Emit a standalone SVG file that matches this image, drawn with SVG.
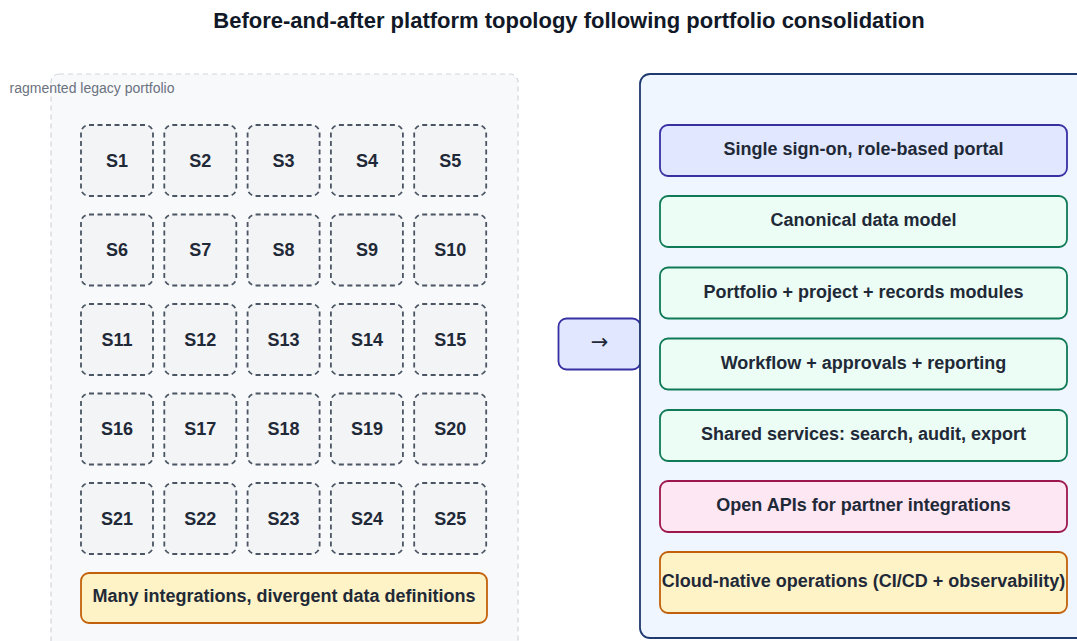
<svg xmlns="http://www.w3.org/2000/svg" width="1077" height="641" viewBox="0 0 1077 641">
<defs>
<style>
text{font-family:"Liberation Sans",Arial,sans-serif;fill:#1f2937;}
.title{font-size:22px;font-weight:bold;fill:#111827;}
.lbl{font-size:14px;fill:#6b7280;}
.s rect{fill:#f3f4f6;stroke:#4b5563;stroke-width:1.8;stroke-dasharray:5 3.5;}
.s text{font-size:18px;font-weight:bold;text-anchor:middle;}
.b text{font-size:18px;font-weight:bold;text-anchor:middle;}
.b rect{stroke-width:1.8;}
.indigo{fill:#e0e7ff;stroke:#3730a3;}
.green{fill:#ecfdf5;stroke:#0f7a55;}
.pink{fill:#fce7f3;stroke:#9d174d;}
.amber{fill:#fef3c7;stroke:#c2610c;}
</style>
<clipPath id="lc"><rect x="10" y="70" width="300" height="30"/></clipPath>
</defs>
<rect width="1077" height="641" fill="#ffffff"/>
<text class="title" x="569" y="27.5" text-anchor="middle">Before-and-after platform topology following portfolio consolidation</text>

<g id="legacy-panel">
<rect x="51" y="74" width="467" height="600" rx="8" fill="#f8f9fb" stroke="#d1d5db" stroke-width="1.2" stroke-dasharray="5 4"/>
<text class="lbl" x="174.5" y="93" text-anchor="end" clip-path="url(#lc)">Fragmented legacy portfolio</text>
</g>

<g id="S1" class="s"><rect x="81" y="125" width="72" height="71" rx="8"/><text x="117" y="166.5">S1</text></g>
<g id="S2" class="s"><rect x="164.3" y="125" width="72" height="71" rx="8"/><text x="200.3" y="166.5">S2</text></g>
<g id="S3" class="s"><rect x="247.6" y="125" width="72" height="71" rx="8"/><text x="283.6" y="166.5">S3</text></g>
<g id="S4" class="s"><rect x="330.9" y="125" width="72" height="71" rx="8"/><text x="366.9" y="166.5">S4</text></g>
<g id="S5" class="s"><rect x="414.2" y="125" width="72" height="71" rx="8"/><text x="450.2" y="166.5">S5</text></g>

<g id="S6" class="s"><rect x="81" y="214.5" width="72" height="71" rx="8"/><text x="117" y="256">S6</text></g>
<g id="S7" class="s"><rect x="164.3" y="214.5" width="72" height="71" rx="8"/><text x="200.3" y="256">S7</text></g>
<g id="S8" class="s"><rect x="247.6" y="214.5" width="72" height="71" rx="8"/><text x="283.6" y="256">S8</text></g>
<g id="S9" class="s"><rect x="330.9" y="214.5" width="72" height="71" rx="8"/><text x="366.9" y="256">S9</text></g>
<g id="S10" class="s"><rect x="414.2" y="214.5" width="72" height="71" rx="8"/><text x="450.2" y="256">S10</text></g>

<g id="S11" class="s"><rect x="81" y="304" width="72" height="71" rx="8"/><text x="117" y="345.5">S11</text></g>
<g id="S12" class="s"><rect x="164.3" y="304" width="72" height="71" rx="8"/><text x="200.3" y="345.5">S12</text></g>
<g id="S13" class="s"><rect x="247.6" y="304" width="72" height="71" rx="8"/><text x="283.6" y="345.5">S13</text></g>
<g id="S14" class="s"><rect x="330.9" y="304" width="72" height="71" rx="8"/><text x="366.9" y="345.5">S14</text></g>
<g id="S15" class="s"><rect x="414.2" y="304" width="72" height="71" rx="8"/><text x="450.2" y="345.5">S15</text></g>

<g id="S16" class="s"><rect x="81" y="393.5" width="72" height="71" rx="8"/><text x="117" y="435">S16</text></g>
<g id="S17" class="s"><rect x="164.3" y="393.5" width="72" height="71" rx="8"/><text x="200.3" y="435">S17</text></g>
<g id="S18" class="s"><rect x="247.6" y="393.5" width="72" height="71" rx="8"/><text x="283.6" y="435">S18</text></g>
<g id="S19" class="s"><rect x="330.9" y="393.5" width="72" height="71" rx="8"/><text x="366.9" y="435">S19</text></g>
<g id="S20" class="s"><rect x="414.2" y="393.5" width="72" height="71" rx="8"/><text x="450.2" y="435">S20</text></g>

<g id="S21" class="s"><rect x="81" y="483" width="72" height="71" rx="8"/><text x="117" y="524.5">S21</text></g>
<g id="S22" class="s"><rect x="164.3" y="483" width="72" height="71" rx="8"/><text x="200.3" y="524.5">S22</text></g>
<g id="S23" class="s"><rect x="247.6" y="483" width="72" height="71" rx="8"/><text x="283.6" y="524.5">S23</text></g>
<g id="S24" class="s"><rect x="330.9" y="483" width="72" height="71" rx="8"/><text x="366.9" y="524.5">S24</text></g>
<g id="S25" class="s"><rect x="414.2" y="483" width="72" height="71" rx="8"/><text x="450.2" y="524.5">S25</text></g>

<g id="legacy-note" class="b"><rect class="amber" x="81" y="573" width="406" height="50" rx="8"/><text x="284" y="602">Many integrations, divergent data definitions</text></g>

<g id="transition" class="b"><rect class="indigo" x="558.5" y="318.5" width="82" height="51" rx="8"/><text x="599.5" y="349" style="font-family:'DejaVu Sans',sans-serif;font-weight:normal;font-size:21px">→</text></g>

<g id="target-panel">
<rect x="640" y="74" width="460" height="564" rx="10" fill="#eff6ff" stroke="#1e3a6e" stroke-width="1.8"/>
</g>

<g id="portal" class="b"><rect class="indigo" x="660" y="125" width="407" height="51" rx="8"/><text x="863.5" y="155">Single sign-on, role-based portal</text></g>
<g id="data-model" class="b"><rect class="green" x="660" y="196" width="407" height="51" rx="8"/><text x="863.5" y="226">Canonical data model</text></g>
<g id="modules" class="b"><rect class="green" x="660" y="267.5" width="407" height="51" rx="8"/><text x="863.5" y="297.5">Portfolio + project + records modules</text></g>
<g id="workflow" class="b"><rect class="green" x="660" y="338.5" width="407" height="51" rx="8"/><text x="863.5" y="368.5">Workflow + approvals + reporting</text></g>
<g id="shared" class="b"><rect class="green" x="660" y="410" width="407" height="51" rx="8"/><text x="863.5" y="440">Shared services: search, audit, export</text></g>
<g id="apis" class="b"><rect class="pink" x="660" y="481" width="407" height="51" rx="8"/><text x="863.5" y="511">Open APIs for partner integrations</text></g>
<g id="ops" class="b"><rect class="amber" x="660" y="552" width="407" height="61" rx="8"/><text x="863.5" y="587">Cloud-native operations (CI/CD + observability)</text></g>

<g id="connectors"></g>
</svg>
